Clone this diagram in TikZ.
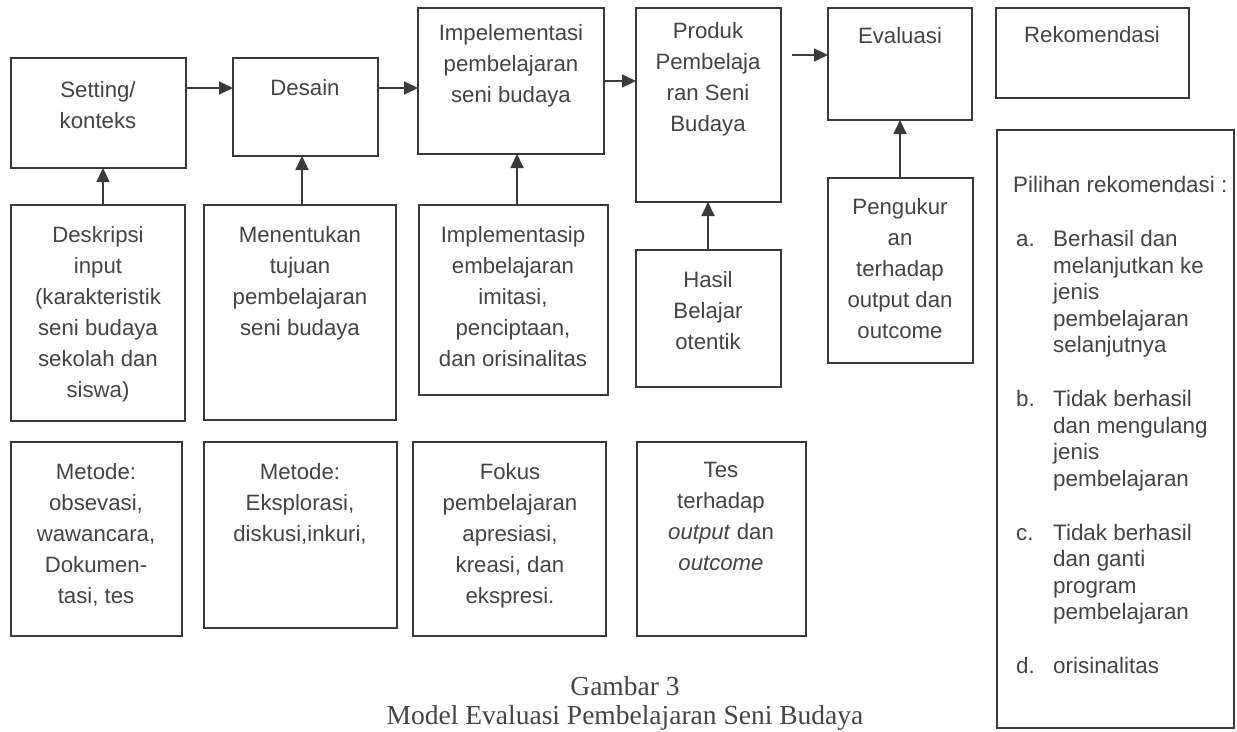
\documentclass[tikz,border=0pt]{standalone}
\usepackage{fontspec}
\setmainfont{Liberation Sans}
\newfontfamily\capfont{Liberation Serif}
\usetikzlibrary{arrows.meta,calc}
\definecolor{linec}{HTML}{3A3A3A}
\definecolor{textc}{HTML}{444444}
\newcommand\mytopstrut{\rule{0pt}{16pt}}
\begin{document}
\begin{tikzpicture}[x=1pt,y=-1pt,
  box/.style={draw=linec, line width=1.8pt, inner sep=0pt, outer sep=0pt, anchor=north west},
  txt/.style={text=textc, font=\fontsize{22.2}{31}\selectfont, align=center, inner sep=0pt, anchor=north, execute at begin node=\mytopstrut},
  ltxt/.style={text=textc, font=\fontsize{22.4}{26.5}\selectfont, align=left, inner sep=0pt, anchor=north west, execute at begin node=\mytopstrut},
  captxt/.style={text=textc, font=\capfont\fontsize{27.5}{32}\selectfont, inner sep=0pt, anchor=base},
  arr/.style={draw=linec, line width=1.8pt, -{Triangle[length=14pt,width=13pt]}},
]
\useasboundingbox (0,0) rectangle (1237,731);
\clip (0,0) rectangle (1237,731);
\fill[white] (0,0) rectangle (1237,731);

% top row
\node[box, minimum width=175pt, minimum height=110pt] (set) at (11,58) {};
\node[box, minimum width=145pt, minimum height=98pt] (des) at (233,58) {};
\node[box, minimum width=186pt, minimum height=146pt] (impl) at (418,8) {};
\node[box, minimum width=145pt, minimum height=194pt] (prod) at (636,8) {};
\node[box, minimum width=144pt, minimum height=112pt] (eval) at (828,8) {};
\node[box, minimum width=193pt, minimum height=90pt] (rek) at (996,8) {};
\node[box, minimum width=237pt, minimum height=598pt] (pil) at (997,130) {};

% middle row
\node[box, minimum width=174pt, minimum height=216pt] (desk) at (11,205) {};
\node[box, minimum width=192pt, minimum height=215pt] (tuj) at (204,205) {};
\node[box, minimum width=189pt, minimum height=190pt] (imp2) at (419,205) {};
\node[box, minimum width=145pt, minimum height=137pt] (has) at (636,250) {};
\node[box, minimum width=145pt, minimum height=185pt] (peng) at (828,178) {};

% bottom row
\node[box, minimum width=171pt, minimum height=194pt] (met1) at (11,442) {};
\node[box, minimum width=193pt, minimum height=186pt] (met2) at (204,442) {};
\node[box, minimum width=193pt, minimum height=194pt] (fok) at (413,442) {};
\node[box, minimum width=169pt, minimum height=194pt] (tes) at (637,442) {};

% texts
\node[txt] (settx) at (98,81) {Setting/\\konteks};
\node[txt] (destx) at (305,79) {Desain};
\node[txt] (impltx) at (511,24) {Impelementasi\\pembelajaran\\seni budaya};
\node[txt] (prodtx) at (708,22) {Produk\\Pembelaja\\ran Seni\\Budaya};
\node[txt] (evaltx) at (900,27) {Evaluasi};
\node[txt] (rektx) at (1092,26) {Rekomendasi};

\node[txt] (desktx) at (98,226) {Deskripsi\\input\\(karakteristik\\seni budaya\\sekolah dan\\siswa)};
\node[txt] (tujtx) at (300,226) {Menentukan\\tujuan\\pembelajaran\\seni budaya};
\node[txt] (imp2tx) at (513,226) {Implementasip\\embelajaran\\imitasi,\\penciptaan,\\dan orisinalitas};
\node[txt] (hastx) at (708,271) {Hasil\\Belajar\\otentik};
\node[txt] (pengtx) at (900,198) {Pengukur\\an\\terhadap\\output dan\\outcome};

\node[txt] (met1tx) at (96,463) {Metode:\\obsevasi,\\wawancara,\\Dokumen-\\tasi, tes};
\node[txt] (met2tx) at (300,463) {Metode:\\Eksplorasi,\\diskusi,inkuri,};
\node[txt] (foktx) at (510,463) {Fokus\\pembelajaran\\apresiasi,\\kreasi, dan\\ekspresi.};
\node[txt] (testx) at (721,462) {Tes\\terhadap\\\textit{output} dan\\\textit{outcome}};

% recommendation list
\node[ltxt] (piltx) at (1013,176) {Pilihan rekomendasi :};
\node[ltxt] (la) at (1016,230.5) {a.};
\node[ltxt] (ta) at (1053,230.5) {Berhasil dan\\melanjutkan ke\\jenis\\pembelajaran\\selanjutnya};
\node[ltxt] (lb) at (1016,390.5) {b.};
\node[ltxt] (tb) at (1053,390.5) {Tidak berhasil\\dan mengulang\\jenis\\pembelajaran};
\node[ltxt] (lc) at (1016,524) {c.};
\node[ltxt] (tc) at (1053,524) {Tidak berhasil\\dan ganti\\program\\pembelajaran};
\node[ltxt] (ld) at (1016,657.5) {d.};
\node[ltxt] (td) at (1053,657.5) {orisinalitas};

% horizontal arrows
\draw[arr] (set.east |- 0,88) -- (des.west |- 0,88);
\draw[arr] (des.east |- 0,88) -- (impl.west |- 0,88);
\draw[arr] (impl.east |- 0,81) -- (prod.west |- 0,81);
\draw[arr] ($(prod.east |- 0,55)+(11,0)$) -- (eval.west |- 0,55);

% vertical arrows
\draw[arr] (desk.north -| 103,0) -- (set.south -| 103,0);
\draw[arr] (tuj.north -| 302,0) -- (des.south -| 302,0);
\draw[arr] (imp2.north -| 517,0) -- (impl.south -| 517,0);
\draw[arr] (has.north -| 708,0) -- (prod.south -| 708,0);
\draw[arr] (peng.north -| 900,0) -- (eval.south -| 900,0);

% caption
\node[captxt] (cap1) at (625,695) {Gambar 3};
\node[captxt] (cap2) at (625,724) {Model Evaluasi Pembelajaran Seni Budaya};
\end{tikzpicture}
\end{document}
